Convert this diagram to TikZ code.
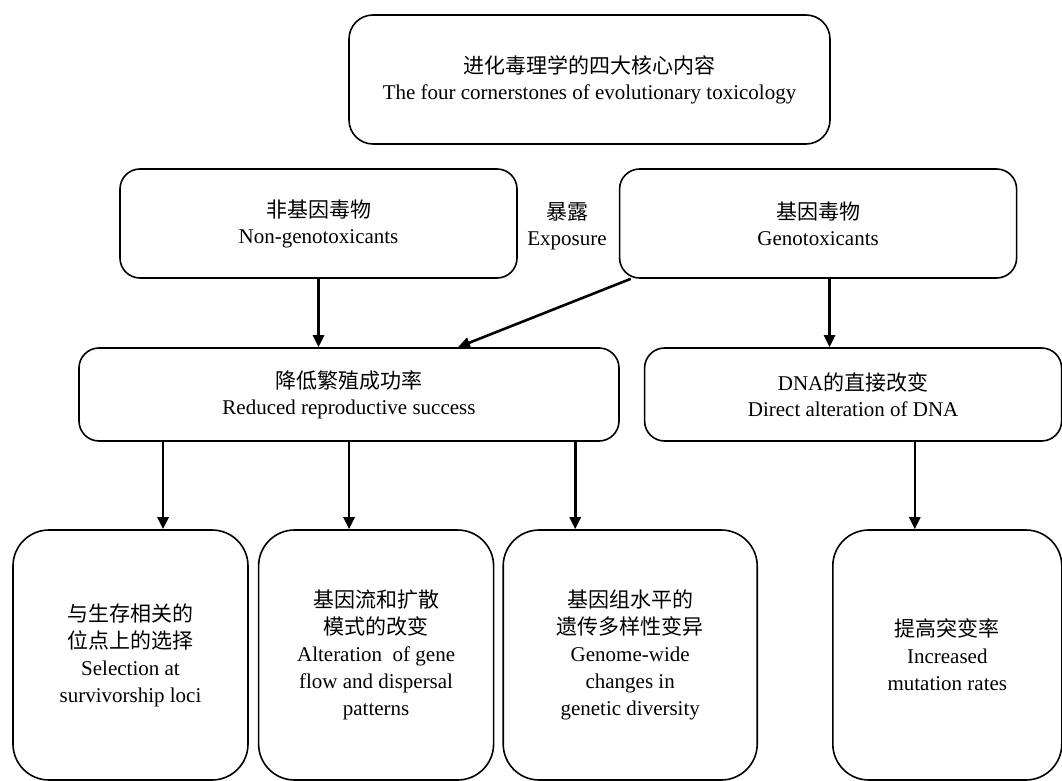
\documentclass[tikz,border=0pt]{standalone}
\usepackage{fontspec}
\setmainfont{Liberation Serif}
\newfontfamily\cjk{Noto Sans CJK SC}
\usetikzlibrary{positioning,arrows.meta}
\tikzset{main box/.style={rectangle, rounded corners=20pt, draw, line width=1.6pt, align=center, inner sep=2pt, font=\fontsize{21}{26}\selectfont},
leaf box/.style={main box, rounded corners=36pt, minimum height=250pt, font=\fontsize{21}{27}\selectfont},}

\begin{document}
\begin{tikzpicture}[x=1pt, y=-1pt, >={Triangle[length=12pt,width=11pt]}, line width=2.6pt]
        \useasboundingbox (0,0) rectangle (1062,781);
        % Nodes
        \node[main box, rounded corners=24pt, minimum width=481pt, minimum height=129pt] (core) at (589.5,79.5) {{\cjk 进化毒理学的四大核心内容}\\The four cornerstones of evolutionary toxicology};
        \node[main box, minimum width=397pt, minimum height=109pt] (nongeno) at (318.5,223.5) {{\cjk 非基因毒物}\\Non-genotoxicants};
        \node[main box, minimum width=397pt, minimum height=109pt] [right = 101pt of nongeno] (geno) {{\cjk 基因毒物}\\Genotoxicants};
        \node[align=center, font=\fontsize{21}{26}\selectfont] (exposure) at (567,226) {{\cjk 暴露}\\Exposure};
        \node[main box, minimum width=540pt, minimum height=93pt] (reduced) at (349,394.5) {{\cjk 降低繁殖成功率}\\Reduced reproductive success};
        \node[main box, minimum width=417pt, minimum height=93pt] [right = 24pt of reduced] (dna) {DNA{\cjk 的直接改变}\\Direct alteration of DNA};
        \node[leaf box, minimum width=235pt] (select) at (130.5,655) {{\cjk 与生存相关的}\\{\cjk 位点上的选择}\\Selection at\\survivorship loci};
        \node[leaf box, minimum width=235pt] [right = 9pt of select] (flow) {{\cjk 基因流和扩散}\\{\cjk 模式的改变}\\Alteration\ \ of gene\\flow and dispersal\\patterns};
        \node[leaf box, minimum width=254pt] [right = 8pt of flow] (diversity) {{\cjk 基因组水平的}\\{\cjk 遗传多样性变异}\\Genome-wide\\changes in\\genetic diversity};
        \node[leaf box, minimum width=229pt] [right = 74pt of diversity] (mutation) {{\cjk 提高突变率}\\Increased\\mutation rates};
        % Paths
        \coordinate (s1) at ([xshift=32.5pt]select.north);
        \coordinate (s3) at ([xshift=-55pt]diversity.north);
        \coordinate (s4) at ([xshift=-32.5pt]mutation.north);
        \coordinate (g1) at ([xshift=11.5pt]geno.south);
        \draw[->] (nongeno.south) -- (nongeno.south |- reduced.north);
        \draw[->] ([xshift=12pt]geno.south west) -- ([xshift=109pt]reduced.north);
        \draw[->] (g1) -- (g1 |- dna.north);
        \draw[->] (s1 |- reduced.south) -- (s1);
        \draw[->] (reduced.south) -- (reduced.south |- flow.north);
        \draw[->] (s3 |- reduced.south) -- (s3);
        \draw[->] (s4 |- dna.south) -- (s4);
    \end{tikzpicture}
\end{document}
